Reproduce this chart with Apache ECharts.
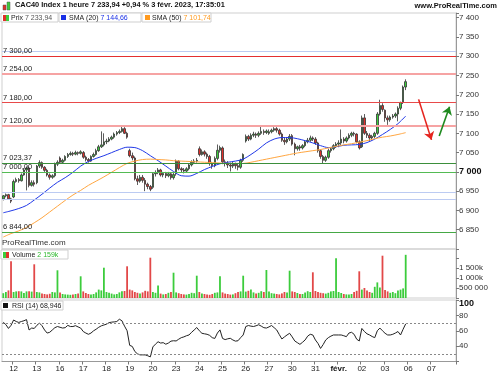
<!DOCTYPE html>
<html lang="fr">
<head>
    <meta charset="utf-8" />
    <title>CAC40 Index 1 heure</title>
    <script src="https://cdn.jsdelivr.net/npm/echarts@6/dist/echarts.min.js"></script>
    <style>
        html, body { margin: 0; padding: 0; background: #fff; }
        #chart { width: 500px; height: 375px; }
    </style>
</head>
<body>
<div id="chart"></div>
<script>
    // jours affichés (1 bougie par heure, 9h -> 17h)
    var days = ['11', '12', '13', '16', '17', '18', '19', '20', '23', '24', '25', '26', '27', '30', '31', 'févr.', '02', '03', '06', '07', '08'];
    var hours = ['09:00', '10:00', '11:00', '12:00', '13:00', '14:00', '15:00', '16:00', '17:00'];
    var firstSlot = 5;    // le graphique commence le 11 à 14:00
    var slotCount = 176;  // bougies + place libre à droite

    var opens = [
        6930, 6938, 6941, 6930,
        6935, 6975, 6980, 6977, 6992, 7005, 7010, 6965, 6972,
        6972, 7015, 7024, 7012, 7004, 6992, 6986, 6990, 7020,
        7036, 7025, 7030, 7040, 7045, 7048, 7046, 7050, 7048,
        7050, 7038, 7032, 7028, 7040, 7045, 7055, 7065, 7070,
        7078, 7080, 7085, 7090, 7098, 7102, 7105, 7112, 7100,
        7055, 7042, 7036, 6982, 6976, 6986, 6978, 6968, 6962,
        6960, 6995, 6998, 7005, 6992, 6996, 6990, 6995, 6985,
        6995, 7028, 7008, 7005, 7002, 7008, 7018, 7025, 7028,
        7060, 7045, 7052, 7046, 7040, 7022, 7016, 7035, 7056,
        7062, 7026, 7022, 7018, 7015, 7020, 7016, 7012, 7030,
        7080, 7092, 7085, 7095, 7098, 7095, 7100, 7105, 7102,
        7100, 7104, 7108, 7112, 7108, 7098, 7082, 7078, 7085,
        7094, 7072, 7060, 7065, 7062, 7068, 7078, 7082, 7088,
        7085, 7075, 7055, 7040, 7030, 7038, 7055, 7060, 7068,
        7072, 7075, 7085, 7080, 7088, 7095, 7100, 7098, 7078,
        7065, 7140, 7100, 7095, 7088, 7092, 7100, 7150, 7172,
        7160, 7140, 7135, 7142, 7145, 7150, 7165, 7180, 7220
    ];
    var closes = [
        6938, 6941, 6930, 6924,
        6975, 6980, 6977, 6992, 7005, 7010, 6965, 6972, 6968,
        7015, 7024, 7012, 7004, 6992, 6986, 6990, 7020, 7025,
        7025, 7030, 7040, 7045, 7048, 7046, 7050, 7048, 7052,
        7038, 7032, 7028, 7040, 7045, 7055, 7065, 7070, 7078,
        7080, 7085, 7090, 7098, 7102, 7105, 7112, 7100, 7090,
        7042, 7036, 6982, 6976, 6986, 6978, 6968, 6962, 6955,
        6995, 6998, 7005, 6992, 6996, 6990, 6995, 6985, 6993,
        7028, 7008, 7005, 7002, 7008, 7018, 7025, 7028, 7030,
        7045, 7052, 7046, 7040, 7022, 7016, 7035, 7056, 7063,
        7026, 7022, 7018, 7015, 7020, 7016, 7012, 7030, 7045,
        7092, 7085, 7095, 7098, 7095, 7100, 7105, 7102, 7106,
        7104, 7108, 7112, 7108, 7098, 7082, 7078, 7085, 7092,
        7072, 7060, 7065, 7062, 7068, 7078, 7082, 7088, 7085,
        7075, 7055, 7040, 7030, 7038, 7055, 7060, 7068, 7072,
        7075, 7085, 7080, 7088, 7095, 7100, 7098, 7078, 7062,
        7140, 7100, 7095, 7088, 7092, 7100, 7150, 7172, 7162,
        7140, 7135, 7142, 7145, 7150, 7165, 7180, 7220, 7233.94
    ];
    var highs = [
        6940, 6944, 6943, 6933,
        6980, 6985, 6984, 6996, 7010, 7014, 7013, 6978, 6978,
        7018, 7030, 7027, 7015, 7008, 6996, 6994, 7024, 7030,
        7040, 7034, 7043, 7049, 7053, 7052, 7055, 7053, 7056,
        7054, 7042, 7036, 7043, 7050, 7060, 7070, 7105, 7100,
        7086, 7090, 7094, 7102, 7106, 7110, 7118, 7116, 7104,
        7060, 7050, 7040, 6990, 6992, 6992, 6984, 6972, 6966,
        6998, 7004, 7010, 7008, 7000, 7000, 7000, 6998, 6997,
        7032, 7030, 7012, 7010, 7012, 7022, 7030, 7033, 7036,
        7066, 7058, 7056, 7050, 7044, 7026, 7040, 7071, 7068,
        7066, 7032, 7028, 7024, 7026, 7024, 7022, 7034, 7048,
        7097, 7096, 7100, 7104, 7102, 7105, 7118, 7110, 7110,
        7110, 7112, 7116, 7116, 7112, 7102, 7088, 7090, 7098,
        7098, 7076, 7068, 7070, 7072, 7082, 7088, 7094, 7092,
        7090, 7078, 7058, 7044, 7042, 7060, 7064, 7072, 7077,
        7082, 7110, 7090, 7092, 7100, 7104, 7104, 7100, 7082,
        7146, 7150, 7106, 7100, 7096, 7104, 7155, 7187, 7178,
        7162, 7146, 7146, 7150, 7154, 7170, 7182, 7224, 7240
    ];
    var lows = [
        6926, 6934, 6928, 6919,
        6932, 6972, 6972, 6975, 6990, 6952, 6960, 6962, 6962,
        6968, 7010, 7008, 7000, 6988, 6980, 6982, 6986, 7015,
        7022, 7022, 7027, 7036, 7042, 7041, 7043, 7043, 7045,
        7034, 7027, 7024, 7026, 7037, 7042, 7052, 7062, 7066,
        7072, 7077, 7082, 7086, 7094, 7098, 7102, 7098, 7086,
        7038, 7030, 6978, 6966, 6972, 6972, 6950, 6955, 6950,
        6956, 6988, 6994, 6988, 6986, 6984, 6986, 6980, 6980,
        6990, 7004, 6998, 6996, 6999, 7004, 7014, 7020, 7024,
        7040, 7042, 7040, 7034, 7016, 7008, 7012, 7030, 7050,
        7020, 7014, 7010, 7001, 7010, 7008, 7004, 7008, 7026,
        7076, 7080, 7082, 7090, 7088, 7090, 7096, 7096, 7098,
        7096, 7100, 7104, 7102, 7094, 7078, 7070, 7074, 7080,
        7068, 7043, 7055, 7055, 7058, 7064, 7074, 7078, 7080,
        7070, 7050, 7034, 7023, 7026, 7034, 7050, 7056, 7062,
        7064, 7070, 7074, 7076, 7084, 7090, 7092, 7074, 7058,
        7062, 7096, 7088, 7080, 7082, 7088, 7096, 7146, 7156,
        7130, 7122, 7130, 7138, 7140, 7131, 7160, 7176, 7212
    ];
    var volumes = [
        240000, 300000, 380000, 1835000,
        300000, 330000, 340000, 330000, 250000, 330000, 340000, 320000, 1685000,
        300000, 280000, 220000, 200000, 180000, 210000, 300000, 280000, 1385000,
        280000, 200000, 180000, 170000, 160000, 170000, 200000, 220000, 1085000,
        330000, 250000, 200000, 180000, 200000, 280000, 420000, 380000, 1515000,
        300000, 260000, 220000, 180000, 200000, 280000, 340000, 350000, 1585000,
        420000, 380000, 300000, 260000, 220000, 280000, 360000, 330000, 2015000,
        300000, 260000, 620000, 220000, 180000, 200000, 260000, 300000, 1265000,
        280000, 240000, 200000, 180000, 170000, 200000, 260000, 240000, 1115000,
        300000, 220000, 200000, 180000, 160000, 200000, 260000, 280000, 1085000,
        280000, 220000, 200000, 170000, 180000, 240000, 300000, 330000, 1115000,
        320000, 360000, 420000, 280000, 220000, 260000, 340000, 300000, 1400000,
        320000, 240000, 220000, 200000, 180000, 230000, 300000, 280000, 1365000,
        330000, 300000, 250000, 200000, 200000, 280000, 340000, 300000, 1285000,
        350000, 300000, 260000, 240000, 220000, 260000, 330000, 350000, 1985000,
        300000, 250000, 200000, 180000, 170000, 200000, 300000, 360000, 1335000,
        420000, 500000, 380000, 300000, 260000, 560000, 780000, 520000, 2115000,
        400000, 330000, 260000, 300000, 240000, 380000, 420000, 480000, 2159000
    ];
    var rsi = [
        71, 68, 63, 67,
        74, 72, 70.8, 72, 73, 74.5, 61, 63.5, 63,
        67, 70, 66.6, 61, 57, 58, 61, 64, 65.5,
        64.5, 63.5, 64, 67, 65.5, 65.5, 66.6, 65, 63.5,
        59, 57, 55.4, 57, 59.9, 62, 64.5, 66.4, 67.5,
        68.5, 70.5, 71.2, 71.5, 72, 75, 73, 66, 60,
        41, 39.6, 33, 30, 28.6, 28.6, 28.6, 27.5, 26,
        39, 42.6, 45.7, 44, 44.5, 42.5, 44, 46.5, 47,
        46.7, 49, 51, 52, 53.5, 54.5, 58, 61, 64.2,
        60, 56.7, 56, 55.4, 54, 51, 50, 57, 61.1,
        50, 48.5, 49.5, 50.2, 48, 46.5, 47, 51, 54.5,
        65.5, 66.8, 66, 65.5, 66.5, 67.8, 66, 64, 63.5,
        65, 66.8, 64, 61, 55, 49.3, 52, 54.5, 56.7,
        52, 46.7, 44.5, 42.3, 45, 48, 53, 55.4, 54.5,
        48, 43.5, 37, 42, 48, 51, 53, 54.5, 54.5,
        54.5, 54.5, 53.5, 52.3, 57, 58, 55.4, 49, 46.7,
        63, 59, 56, 54.5, 52.5, 51, 60, 63.5, 60,
        56.7, 54.5, 54.5, 55.4, 57, 59, 54.5, 62, 68.946
    ];
    // moyennes mobiles relevées toutes les 3 bougies
    var smaStep = 3;
    var sma20 = [
        6894, 6899, 6905, 6913, 6927, 6942, 6958, 6973, 6985, 6999,
        7015, 7027, 7035, 7042, 7050, 7058, 7064, 7063, 7055, 7042,
        7029, 7015, 7001, 6990, 6989, 6996, 7006, 7014, 7021, 7025,
        7028, 7033, 7045, 7059, 7075, 7085, 7089, 7089, 7086, 7081,
        7075, 7068, 7063, 7065, 7069, 7070, 7071, 7076, 7085, 7097,
        7110, 7125, 7144.66
    ];
    var sma50 = [
        6831, 6840, 6847, 6856, 6868, 6881, 6896, 6911, 6926, 6940,
        6952, 6965, 6976, 6987, 6999, 7011, 7022, 7028, 7032, 7033,
        7032, 7031, 7029, 7028, 7027, 7026, 7025, 7024, 7023, 7022,
        7022, 7022, 7025, 7029, 7033, 7037, 7041, 7045, 7049, 7052,
        7055, 7058, 7062, 7066, 7070, 7073, 7077, 7081, 7086, 7090,
        7093, 7097, 7101.74
    ];

    // niveaux tracés sur le graphique
    var levelPrices = [7300, 7254, 7180, 7120, 7023.37, 7000, 6844];
    var levelColors = ['#e52f2f', '#f6a3a3', '#e84a4a', '#f6a3a3', '#3b8f3b', '#54bb54', '#45a845'];
    var levelWidths = [1.2, 2, 1.2, 2, 1.2, 1.2, 1.2];
    var faintLevels = [7314, 6948, 6928];
    var rsiLevels = [70, 30];

    // flèches (heure de départ, prix) -> (heure d'arrivée, prix)
    var arrowDown = [['06 13:00', 7188], ['07 09:00', 7083]];
    var arrowUp = [['07 12:00', 7093], ['07 16:00', 7169]];

    var volTickValues = [500000, 1000000, 1500000];
    var volTickLabels = ['500 000', '1 000k', '1 500k'];
    var rsiTickValues = [100, 80, 60, 40];

    var FONT = '"Liberation Sans", Arial, sans-serif';

    function frNum(v, dec) {
        var s = v.toFixed(dec).split('.');
        var ip = s[0].replace(/\B(?=(\d{3})+(?!\d))/g, ' ');
        return s.length > 1 ? ip + ',' + s[1] : ip;
    }

    var allSlots = [];
    days.forEach(function (d) {
        hours.forEach(function (h) { allSlots.push(d + ' ' + h); });
    });
    var categories = allSlots.slice(firstSlot, firstSlot + slotCount);

    var candleData = opens.map(function (o, i) { return [o, closes[i], lows[i], highs[i]]; });
    var volumeData = volumes.map(function (v, i) {
        return { value: v, itemStyle: { color: closes[i] >= opens[i] ? '#3ccc3c' : '#e24848' } };
    });
    function spread(vals) {
        var out = [];
        for (var i = 0; i < closes.length; i++) out.push(null);
        vals.forEach(function (v, j) { out[j * smaStep] = v; });
        return out;
    }

    var lastClose = closes[closes.length - 1];
    var lastVol = volumes[volumes.length - 1];
    var lastRsi = rsi[rsi.length - 1];
    var lastSma20 = sma20[sma20.length - 1];
    var lastSma50 = sma50[sma50.length - 1];

    var priceMarks = [];
    levelPrices.forEach(function (p, i) {
        priceMarks.push({
            yAxis: p,
            lineStyle: { color: levelColors[i], width: levelWidths[i], type: 'solid' },
            label: {
                show: true, position: 'insideStartTop', distance: 1,
                formatter: frNum(p, 2), color: '#222', fontSize: 7.5, fontFamily: FONT
            }
        });
    });
    faintLevels.forEach(function (p) {
        priceMarks.push({ yAxis: p, lineStyle: { color: '#bccbf2', width: 1, type: 'solid' }, label: { show: false } });
    });
    priceMarks.push({
        yAxis: lastClose,
        lineStyle: { opacity: 0 },
        label: {
            show: true, position: 'end', distance: 3, formatter: frNum(lastClose, 2),
            backgroundColor: '#ffd200', color: '#000', fontWeight: 'bold', fontSize: 8.5,
            fontFamily: FONT, padding: [2, 2, 1, 2]
        }
    });
    priceMarks.push([
        { coord: arrowDown[0], symbol: 'none', lineStyle: { color: '#e5251f', width: 1.6, type: 'solid' } },
        { coord: arrowDown[1], symbol: 'arrow', symbolSize: 8, lineStyle: { color: '#e5251f', width: 1.6, type: 'solid' }, label: { show: false } }
    ]);
    priceMarks.push([
        { coord: arrowUp[0], symbol: 'none', lineStyle: { color: '#1f8a1f', width: 1.6, type: 'solid' } },
        { coord: arrowUp[1], symbol: 'arrow', symbolSize: 8, lineStyle: { color: '#1f8a1f', width: 1.6, type: 'solid' }, label: { show: false } }
    ]);

    var rsiMarks = rsiLevels.map(function (v) {
        return { yAxis: v, lineStyle: { color: '#888', type: [2, 2], width: 1 }, label: { show: false } };
    });
    rsiMarks.push({
        yAxis: lastRsi,
        lineStyle: { opacity: 0 },
        label: {
            show: true, position: 'end', distance: 3, formatter: frNum(lastRsi, 3),
            backgroundColor: '#fff', borderColor: '#999', borderWidth: 1, color: '#222',
            fontSize: 8, fontFamily: FONT, padding: [1, 1, 0, 1]
        }
    });

    // étiquette au début de chaque séance, sauf le premier et le dernier jour
    function dayStart(idx, val) {
        var parts = val.split(' ');
        return parts[1] === hours[0] && parts[0] !== days[0] && parts[0] !== days[days.length - 1];
    }

    function legendBox(x, y, w) {
        return { type: 'rect', shape: { x: x, y: y, width: w, height: 9 }, style: { fill: '#fff', stroke: '#cfcfcf', lineWidth: 1 }, z: 100 };
    }

    var textBase = { fontSize: 7, fontFamily: FONT, fill: '#222' };
    function txt(x, y, rich, str, extra) {
        var st = Object.assign({}, textBase, { text: str, rich: rich }, extra || {});
        return { type: 'text', x: x, y: y, style: st, z: 101 };
    }

    var graphics = [
        // en-tête
        { type: 'rect', shape: { x: 3, y: 5, width: 3, height: 5 }, style: { fill: '#e0302a', stroke: '#555', lineWidth: 0.5 }, z: 101 },
        { type: 'rect', shape: { x: 7, y: 2, width: 3, height: 8 }, style: { fill: '#3ccc3c', stroke: '#555', lineWidth: 0.5 }, z: 101 },
        txt(15, 1.5, null, 'CAC40 Index 1 heure ' + frNum(lastClose, 2) + ' +0,94 % 3 févr. 2023, 17:35:01', { fontWeight: 'bold', fill: '#111', fontSize: 7.4 }),
        { type: 'text', right: 3, top: 2, style: { text: 'www.ProRealTime.com', fontSize: 7.5, fontWeight: 'bold', fontFamily: FONT, fill: '#111' }, z: 101 },
        // légende prix
        legendBox(1, 13, 57),
        { type: 'rect', shape: { x: 3, y: 15, width: 3, height: 6 }, style: { fill: '#e0302a' }, z: 102 },
        { type: 'rect', shape: { x: 6, y: 15, width: 3, height: 6 }, style: { fill: '#3ccc3c' }, z: 102 },
        txt(11, 14.5, { v: { fill: '#555', fontSize: 7, fontFamily: FONT } }, 'Prix {v|' + frNum(lastClose, 2) + '}'),
        legendBox(59, 13, 82),
        { type: 'rect', shape: { x: 61, y: 15, width: 5, height: 5 }, style: { fill: '#1a30e6' }, z: 102 },
        txt(69, 14.5, { v: { fill: '#1a30e6', fontSize: 7, fontFamily: FONT } }, 'SMA (20) {v|' + frNum(lastSma20, 2) + '}'),
        legendBox(142, 13, 69),
        { type: 'rect', shape: { x: 145, y: 15, width: 5, height: 5 }, style: { fill: '#ff9a1f' }, z: 102 },
        txt(152, 14.5, { v: { fill: '#ff9a1f', fontSize: 7, fontFamily: FONT } }, 'SMA (50) {v|' + frNum(lastSma50, 2) + '}'),
        // filigrane
        txt(2, 239, null, 'ProRealTime.com', { fontSize: 8, fill: '#333' }),
        // légende volume
        legendBox(1, 250, 67),
        { type: 'rect', shape: { x: 3, y: 252, width: 3, height: 6 }, style: { fill: '#3ccc3c' }, z: 102 },
        { type: 'rect', shape: { x: 6, y: 252, width: 3, height: 6 }, style: { fill: '#e0302a' }, z: 102 },
        txt(12, 251.5, { v: { fill: '#2db82d', fontSize: 7, fontFamily: FONT } }, 'Volume {v|' + frNum(lastVol / 1000, 0) + 'k}'),
        // légende RSI
        legendBox(1, 301, 62),
        { type: 'rect', shape: { x: 3, y: 303, width: 5, height: 5 }, style: { fill: '#111' }, z: 102 },
        txt(12, 302.5, null, 'RSI (14) ' + frNum(lastRsi, 3))
    ];

    var chart = echarts.init(document.getElementById('chart'));
    var option = {
        animation: false,
        backgroundColor: '#fff',
        textStyle: { fontFamily: FONT },
        grid: [
            { left: 2, right: 44, top: 13, height: 236, show: true, borderColor: '#cfcfcf', borderWidth: 1 },
            { left: 2, right: 44, top: 249, height: 49, show: true, borderColor: '#cfcfcf', borderWidth: 1 },
            { left: 2, right: 44, top: 300, height: 61.5, show: true, borderColor: '#cfcfcf', borderWidth: 1 }
        ],
        xAxis: [
            { type: 'category', gridIndex: 0, data: categories, show: false },
            { type: 'category', gridIndex: 1, data: categories, show: false },
            {
                type: 'category', gridIndex: 2, data: categories,
                axisLine: { lineStyle: { color: '#999' } },
                axisTick: { show: true, interval: dayStart, length: 3, lineStyle: { color: '#777' } },
                axisLabel: {
                    interval: dayStart, margin: 3, fontSize: 8, color: '#222',
                    formatter: function (v) {
                        var d = v.split(' ')[0];
                        return d === 'févr.' ? '{b|' + d + '}' : d;
                    },
                    rich: { b: { fontWeight: 'bold', fontSize: 8, color: '#111' } }
                }
            }
        ],
        yAxis: [
            {
                type: 'value', gridIndex: 0, position: 'right', min: 6800, max: 7412, interval: 50,
                axisLine: { show: true, lineStyle: { color: '#999' } },
                axisTick: { show: true, length: 3, lineStyle: { color: '#777' } },
                splitLine: { show: false },
                axisLabel: {
                    margin: 3, fontSize: 8, color: '#333',
                    formatter: function (v) {
                        if (v % 50 !== 0 || v <= 6800 || v > 7400) return '';
                        return v === 7000 ? '{b|' + frNum(v, 0) + '}' : frNum(v, 0);
                    },
                    rich: { b: { fontWeight: 'bold', fontSize: 9, color: '#111' } }
                }
            },
            {
                type: 'value', gridIndex: 1, position: 'right', min: 0, max: 2450000, interval: 500000,
                axisLine: { show: true, lineStyle: { color: '#999' } },
                axisTick: { show: true, length: 3, lineStyle: { color: '#777' } },
                splitLine: { show: false },
                axisLabel: {
                    margin: 3, fontSize: 8, color: '#333',
                    formatter: function (v) {
                        var k = volTickValues.indexOf(v);
                        return k < 0 ? '' : volTickLabels[k];
                    }
                }
            },
            {
                type: 'value', gridIndex: 2, position: 'right', min: 20, max: 100, interval: 20,
                axisLine: { show: true, lineStyle: { color: '#999' } },
                axisTick: { show: true, length: 3, lineStyle: { color: '#777' } },
                splitLine: { show: false },
                axisLabel: {
                    margin: 3, fontSize: 8, color: '#333',
                    formatter: function (v) {
                        if (rsiTickValues.indexOf(v) < 0) return '';
                        return v === 100 ? '{b|100}' : String(v);
                    },
                    rich: { b: { fontWeight: 'bold', fontSize: 9, color: '#111', padding: [8, 0, 0, 0] } }
                }
            }
        ],
        series: [
            {
                name: 'Prix', type: 'candlestick', xAxisIndex: 0, yAxisIndex: 0,
                data: candleData, barWidth: 2,
                itemStyle: { color: '#3ccc3c', color0: '#e0302a', borderColor: '#333', borderColor0: '#333', borderWidth: 0.8 },
                markLine: { silent: true, symbol: ['none', 'none'], animation: false, lineStyle: { type: 'solid' }, data: priceMarks }
            },
            {
                name: 'SMA (20)', type: 'line', xAxisIndex: 0, yAxisIndex: 0, data: spread(sma20),
                connectNulls: true, smooth: 0.3, showSymbol: false, lineStyle: { color: '#2038e8', width: 1 }, z: 3
            },
            {
                name: 'SMA (50)', type: 'line', xAxisIndex: 0, yAxisIndex: 0, data: spread(sma50),
                connectNulls: true, smooth: 0.3, showSymbol: false, lineStyle: { color: '#ffa640', width: 1 }, z: 3
            },
            {
                name: 'Volume', type: 'bar', xAxisIndex: 1, yAxisIndex: 1, data: volumeData, barWidth: 1.8,
                markLine: {
                    silent: true, symbol: ['none', 'none'], animation: false,
                    data: [{
                        yAxis: lastVol, lineStyle: { opacity: 0 },
                        label: {
                            show: true, position: 'end', distance: 3, formatter: frNum(lastVol / 1000, 0) + 'k',
                            backgroundColor: '#fff', borderColor: '#3ccc3c', borderWidth: 1, color: '#2db82d',
                            fontSize: 8, fontFamily: FONT, padding: [1, 1, 0, 1]
                        }
                    }]
                }
            },
            {
                name: 'RSI (14)', type: 'line', xAxisIndex: 2, yAxisIndex: 2, data: rsi,
                showSymbol: false, lineStyle: { color: '#222', width: 1 },
                markLine: { silent: true, symbol: ['none', 'none'], animation: false, data: rsiMarks }
            }
        ],
        graphic: graphics
    };
    chart.setOption(option);
</script>
</body>
</html>
